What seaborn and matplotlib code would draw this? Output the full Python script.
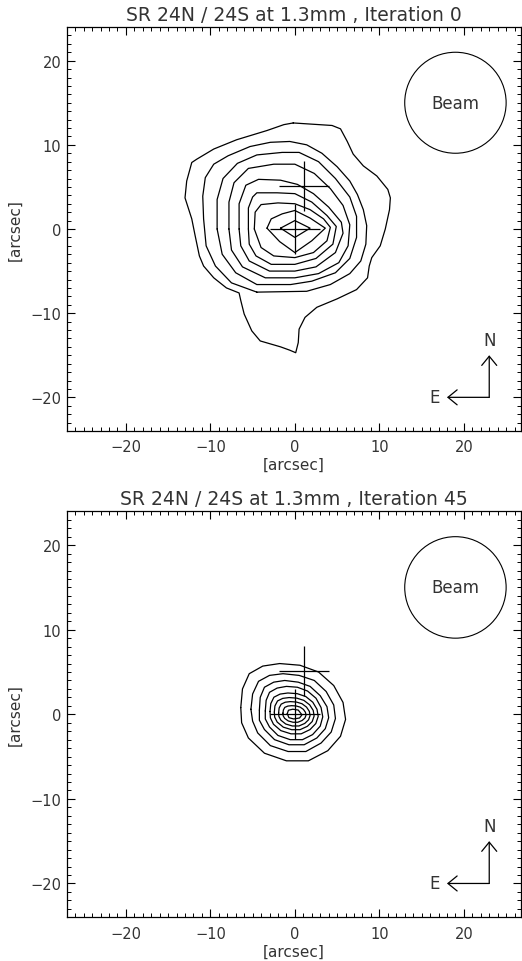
import numpy as np
import pandas as pd
import matplotlib
matplotlib.use("Agg")
import matplotlib.pyplot as plt
import seaborn as sns
from matplotlib.ticker import MultipleLocator
from matplotlib.patches import Circle
from matplotlib import font_manager

# ---------------- data ----------------
titles = ["SR 24N / 24S at 1.3mm , Iteration 0",
          "SR 24N / 24S at 1.3mm , Iteration 45"]
axis_label = "[arcsec]"
xticks = [-20, -10, 0, 10, 20]
yticks = [-20, -10, 0, 10, 20]

# source positions (crosses)
src_x = [0.0, 1.1]
src_y = [0.0, 5.1]

# beam
beam_x = 19.0
beam_y = 15.0
beam_r = 6.0

# compass
compass_x = 23.0
compass_y = -20.0
compass_len = 5.0

# Iteration 0 contours (outer -> inner), x/y in arcsec
top_c1 = [(-0.2, 12.6), (4.4, 12.3), (5.4, 11.9), (6.2, 10.4), (6.9, 8.9), (8.1, 7.5),
          (9.7, 6.3), (11.0, 4.7), (11.3, 3.7), (11.2, 2.3), (10.7, 0.0), (10.1, -2.0),
          (9.1, -3.4), (8.8, -4.4), (8.6, -5.8), (7.3, -7.2), (5.0, -8.3), (2.6, -9.3),
          (1.2, -10.5), (0.5, -11.9), (0.4, -13.5), (0.1, -14.7), (-0.6, -14.4),
          (-1.7, -14.0), (-4.1, -13.3), (-5.1, -12.1), (-6.0, -10.1), (-6.4, -8.5),
          (-6.6, -7.6), (-8.1, -7.0), (-9.6, -5.8), (-10.8, -4.4), (-11.3, -3.2),
          (-11.8, -0.8), (-12.2, 1.2), (-13.0, 3.7), (-12.8, 5.7), (-12.2, 7.9),
          (-11.6, 8.3), (-9.6, 9.5), (-6.9, 10.6), (-3.3, 11.7), (-1.3, 12.4)]
top_c2 = [(-4.5, -7.5), (1.4, -7.4), (4.2, -6.6), (6.5, -5.3), (7.8, -3.8), (8.4, -1.8),
          (8.5, 0.4), (8.1, 2.3), (7.4, 4.1), (6.5, 5.7), (5.0, 7.4), (3.2, 9.0),
          (1.4, 10.0), (-0.6, 10.4), (-2.9, 10.3), (-5.3, 9.8), (-7.9, 8.7), (-9.6, 7.7),
          (-10.6, 6.1), (-10.9, 3.9), (-10.8, 1.2), (-10.5, -2.0), (-9.4, -4.4),
          (-7.5, -6.4)]
top_c3 = [(-9.2, 0.0), (-9.2, 3.5), (-8.5, 6.0), (-6.8, 7.8), (-4.5, 8.8), (-1.5, 9.1),
          (0.5, 9.1), (2.8, 8.0), (4.8, 6.0), (6.5, 3.8), (7.3, 1.5), (7.3, -1.0),
          (6.5, -3.5), (4.8, -5.2), (2.0, -6.2), (-0.5, -6.6), (-4.5, -6.6), (-7.0, -5.2),
          (-8.6, -3.0)]
top_c4 = [(-7.8, 0.0), (-7.8, 3.2), (-7.2, 5.5), (-5.5, 7.2), (-2.5, 7.7), (0.0, 7.7),
          (2.3, 6.6), (4.2, 4.8), (5.7, 2.8), (6.5, 0.5), (6.3, -2.0), (5.2, -4.0),
          (2.8, -5.3), (0.0, -5.8), (-3.5, -5.8), (-6.2, -4.5), (-7.5, -2.5)]
top_c5 = [(-6.6, 0.0), (-6.6, 3.0), (-5.8, 5.2), (-4.3, 5.9), (-1.7, 5.8), (0.3, 5.3),
          (2.2, 4.2), (4.0, 2.6), (5.5, 0.8), (5.7, -0.5), (4.8, -2.8), (2.5, -4.5),
          (0.0, -5.0), (-3.0, -5.0), (-5.4, -3.8), (-6.4, -2.0)]
top_c6 = [(-5.5, 0.0), (-5.5, 2.5), (-5.0, 3.8), (-4.5, 4.3), (-2.1, 4.3), (0.0, 4.2),
          (2.0, 3.2), (3.8, 1.6), (4.9, 0.3), (4.5, -1.8), (2.5, -3.5), (0.0, -4.2),
          (-2.8, -4.2), (-4.6, -3.2), (-5.4, -1.8)]
top_c7 = [(-4.8, 0.0), (-4.7, 2.0), (-4.0, 2.9), (-2.0, 3.1), (0.0, 3.0), (1.8, 2.3),
          (3.4, 1.2), (4.2, 0.2), (3.8, -1.4), (2.2, -2.8), (0.0, -3.4), (-2.5, -3.2),
          (-4.0, -2.2)]
top_c8 = [(-3.3, 0.1), (-2.8, 1.2), (-1.5, 1.8), (0.0, 2.2), (1.8, 1.3), (3.6, 0.1),
          (2.0, -1.4), (0.0, -2.8), (-1.8, -1.5)]
top_c9 = [(-1.7, 0.1), (0.0, 1.0), (1.8, 0.1), (0.0, -1.0)]

# Iteration 45 contours (outer -> inner)
bot_c1 = [(-6.4, 0.8), (-6.2, 3.0), (-5.4, 4.8), (-3.8, 5.7), (-1.8, 6.0), (0.6, 5.8),
          (2.8, 5.0), (4.6, 3.4), (5.7, 1.4), (6.0, -0.6), (5.4, -2.6), (3.9, -4.3),
          (1.6, -5.5), (-1.0, -5.5), (-3.6, -4.6), (-5.5, -2.8), (-6.3, -1.0)]
bot_c2 = [(-5.2, 0.6), (-5.0, 2.4), (-4.3, 3.9), (-3.0, 4.6), (-1.4, 4.8), (0.5, 4.6),
          (2.3, 4.0), (3.7, 2.7), (4.6, 1.1), (4.8, -0.5), (4.3, -2.1), (3.1, -3.4),
          (1.3, -4.4), (-0.8, -4.4), (-2.9, -3.7), (-4.4, -2.2), (-5.0, -0.8)]
bot_c3 = [(-4.2, 0.5), (-4.1, 2.0), (-3.6, 3.2), (-2.5, 3.8), (-1.2, 4.0), (0.4, 3.8),
          (1.8, 3.3), (3.0, 2.2), (3.8, 0.9), (4.0, -0.4), (3.6, -1.7), (2.6, -2.8),
          (1.1, -3.6), (-0.7, -3.6), (-2.4, -3.0), (-3.6, -1.8), (-4.2, -0.7)]
bot_c4 = [(-3.5, 0.4), (-3.4, 1.65), (-3.0, 2.6), (-2.1, 3.1), (-1.0, 3.3), (0.3, 3.2),
          (1.5, 2.75), (2.5, 1.9), (3.1, 0.8), (3.3, -0.3), (3.0, -1.4), (2.1, -2.4),
          (0.9, -3.0), (-0.55, -3.0), (-2.0, -2.5), (-3.0, -1.5), (-3.5, -0.55)]
bot_c5 = [(-2.94, 0.34), (-2.85, 1.26), (-2.48, 2.02), (-1.75, 2.39), (-0.83, 2.52),
          (0.28, 2.44), (1.29, 2.1), (2.12, 1.43), (2.62, 0.59), (2.76, -0.25),
          (2.48, -1.09), (1.79, -1.81), (0.74, -2.31), (-0.46, -2.31), (-1.66, -1.93),
          (-2.53, -1.18), (-2.9, -0.42)]
bot_c6 = [(-2.43, 0.26), (-2.36, 0.99), (-2.05, 1.58), (-1.44, 1.88), (-0.68, 1.98),
          (0.23, 1.91), (1.06, 1.65), (1.75, 1.12), (2.17, 0.46), (2.28, -0.2),
          (2.05, -0.86), (1.48, -1.42), (0.61, -1.82), (-0.38, -1.82), (-1.37, -1.52),
          (-2.09, -0.92), (-2.39, -0.33)]
bot_c7 = [(-1.92, 0.2), (-1.86, 0.75), (-1.62, 1.2), (-1.14, 1.43), (-0.54, 1.5),
          (0.18, 1.45), (0.84, 1.25), (1.38, 0.85), (1.71, 0.35), (1.8, -0.15),
          (1.62, -0.65), (1.17, -1.08), (0.48, -1.38), (-0.3, -1.38), (-1.08, -1.15),
          (-1.65, -0.7), (-1.89, -0.25)]
bot_c8 = [(-1.41, 0.14), (-1.36, 0.51), (-1.19, 0.82), (-0.84, 0.97), (-0.4, 1.02),
          (0.13, 0.99), (0.62, 0.85), (1.01, 0.58), (1.25, 0.24), (1.32, -0.1),
          (1.19, -0.44), (0.86, -0.73), (0.35, -0.94), (-0.22, -0.94), (-0.79, -0.78),
          (-1.21, -0.48), (-1.39, -0.17)]
bot_c9 = [(-0.9, 0.08), (-0.76, 0.48), (-0.25, 0.6), (0.4, 0.5), (0.84, -0.06),
          (0.55, -0.44), (-0.14, -0.55), (-0.7, -0.4)]

top_contours = [top_c1, top_c2, top_c3, top_c4, top_c5, top_c6, top_c7, top_c8, top_c9]
bot_contours = [bot_c1, bot_c2, bot_c3, bot_c4, bot_c5, bot_c6, bot_c7, bot_c8, bot_c9]

# ---------------- styling ----------------
sns.set_theme(style="white")
plt.rcParams["font.family"] = ["DejaVu Sans"]

_installed = {f.name for f in font_manager.fontManager.ttflist}
if "Liberation Sans Narrow" in _installed:
    NARROW = ["Liberation Sans Narrow", "DejaVu Sans"]
    FS_TICK = 12
else:
    NARROW = ["DejaVu Sans"]
    FS_TICK = 10.5

TXT = "#333333"
plt.rcParams.update({
    "axes.edgecolor": "black",
    "axes.linewidth": 0.9,
    "xtick.direction": "in",
    "ytick.direction": "in",
    "xtick.top": True,
    "ytick.right": True,
    "xtick.bottom": True,
    "ytick.left": True,
    "xtick.major.size": 5.5,
    "ytick.major.size": 5.5,
    "xtick.minor.size": 2.6,
    "ytick.minor.size": 2.6,
    "xtick.major.width": 0.8,
    "ytick.major.width": 0.8,
    "xtick.minor.width": 0.7,
    "ytick.minor.width": 0.7,
    "xtick.color": "black",
    "ytick.color": "black",
    "xtick.labelcolor": TXT,
    "ytick.labelcolor": TXT,
    "text.color": TXT,
    "axes.labelcolor": TXT,
})

FS_TITLE = 13.5
FS_LABEL = 11
FS_TEXT = 12
W, H = 522, 962
fig = plt.figure(figsize=(W / 100, H / 100), dpi=100)
fig.patch.set_facecolor("white")

panels = [
    (28.0, 432.0, top_contours, titles[0]),
    (512.3, 918.3, bot_contours, titles[1]),
]
left_px, right_px = 66.7, 520.5


def contour_frame(contours):
    rows = []
    for lev, pts in enumerate(contours):
        closed = list(pts) + [pts[0]]
        for k, (x, y) in enumerate(closed):
            rows.append((lev, k, x, y))
    return pd.DataFrame(rows, columns=["level", "order", "x", "y"])


for top_px, bot_px, contours, title in panels:
    ax = fig.add_axes([left_px / W, 1 - bot_px / H,
                       (right_px - left_px) / W, (bot_px - top_px) / H])
    df = contour_frame(contours)
    sns.lineplot(data=df, x="x", y="y", units="level", estimator=None, sort=False,
                 color="black", lw=0.9, ax=ax, legend=False)

    # source crosses
    ax.plot(src_x, src_y, linestyle="none", marker="+", ms=36.5, mew=0.9,
            color="black")

    # beam
    ax.add_patch(Circle((beam_x, beam_y), beam_r, fill=False, ec="black", lw=0.8))
    ax.text(beam_x, beam_y, "Beam", ha="center", va="center", fontsize=FS_TEXT)

    # compass
    arrow_kw = dict(arrowstyle="->,head_length=0.55,head_width=0.45", lw=0.9,
                    color="black", shrinkA=0, shrinkB=0, mutation_scale=12)
    ax.annotate("", xy=(compass_x, compass_y + compass_len),
                xytext=(compass_x, compass_y), arrowprops=arrow_kw)
    ax.annotate("", xy=(compass_x - compass_len, compass_y),
                xytext=(compass_x, compass_y), arrowprops=arrow_kw)
    ax.text(compass_x, compass_y + compass_len + 1.8, "N", ha="center", va="center",
            fontsize=FS_TEXT)
    ax.text(compass_x - compass_len - 1.5, compass_y, "E", ha="center", va="center",
            fontsize=FS_TEXT)

    ax.set_xlim(-27, 26.7)
    ax.set_ylim(-24, 24)
    ax.set_xticks(xticks)
    ax.set_yticks(yticks)
    ax.xaxis.set_minor_locator(MultipleLocator(1))
    ax.yaxis.set_minor_locator(MultipleLocator(1))
    ax.tick_params(axis="both", which="both", labelsize=FS_TICK)
    ax.tick_params(axis="x", which="major", pad=6)
    ax.tick_params(axis="y", which="major", pad=4)
    for lab in ax.get_xticklabels() + ax.get_yticklabels():
        lab.set_family(NARROW)
    ax.set_xlabel(axis_label, fontsize=FS_LABEL, labelpad=2)
    ax.set_ylabel(axis_label, fontsize=FS_LABEL)
    ax.yaxis.set_label_coords(-0.097, 0.5)
    ax.set_title(title, fontsize=FS_TITLE, pad=5)
    for s in ax.spines.values():
        s.set_visible(True)

fig.savefig("out.png", dpi=100, facecolor="white")
